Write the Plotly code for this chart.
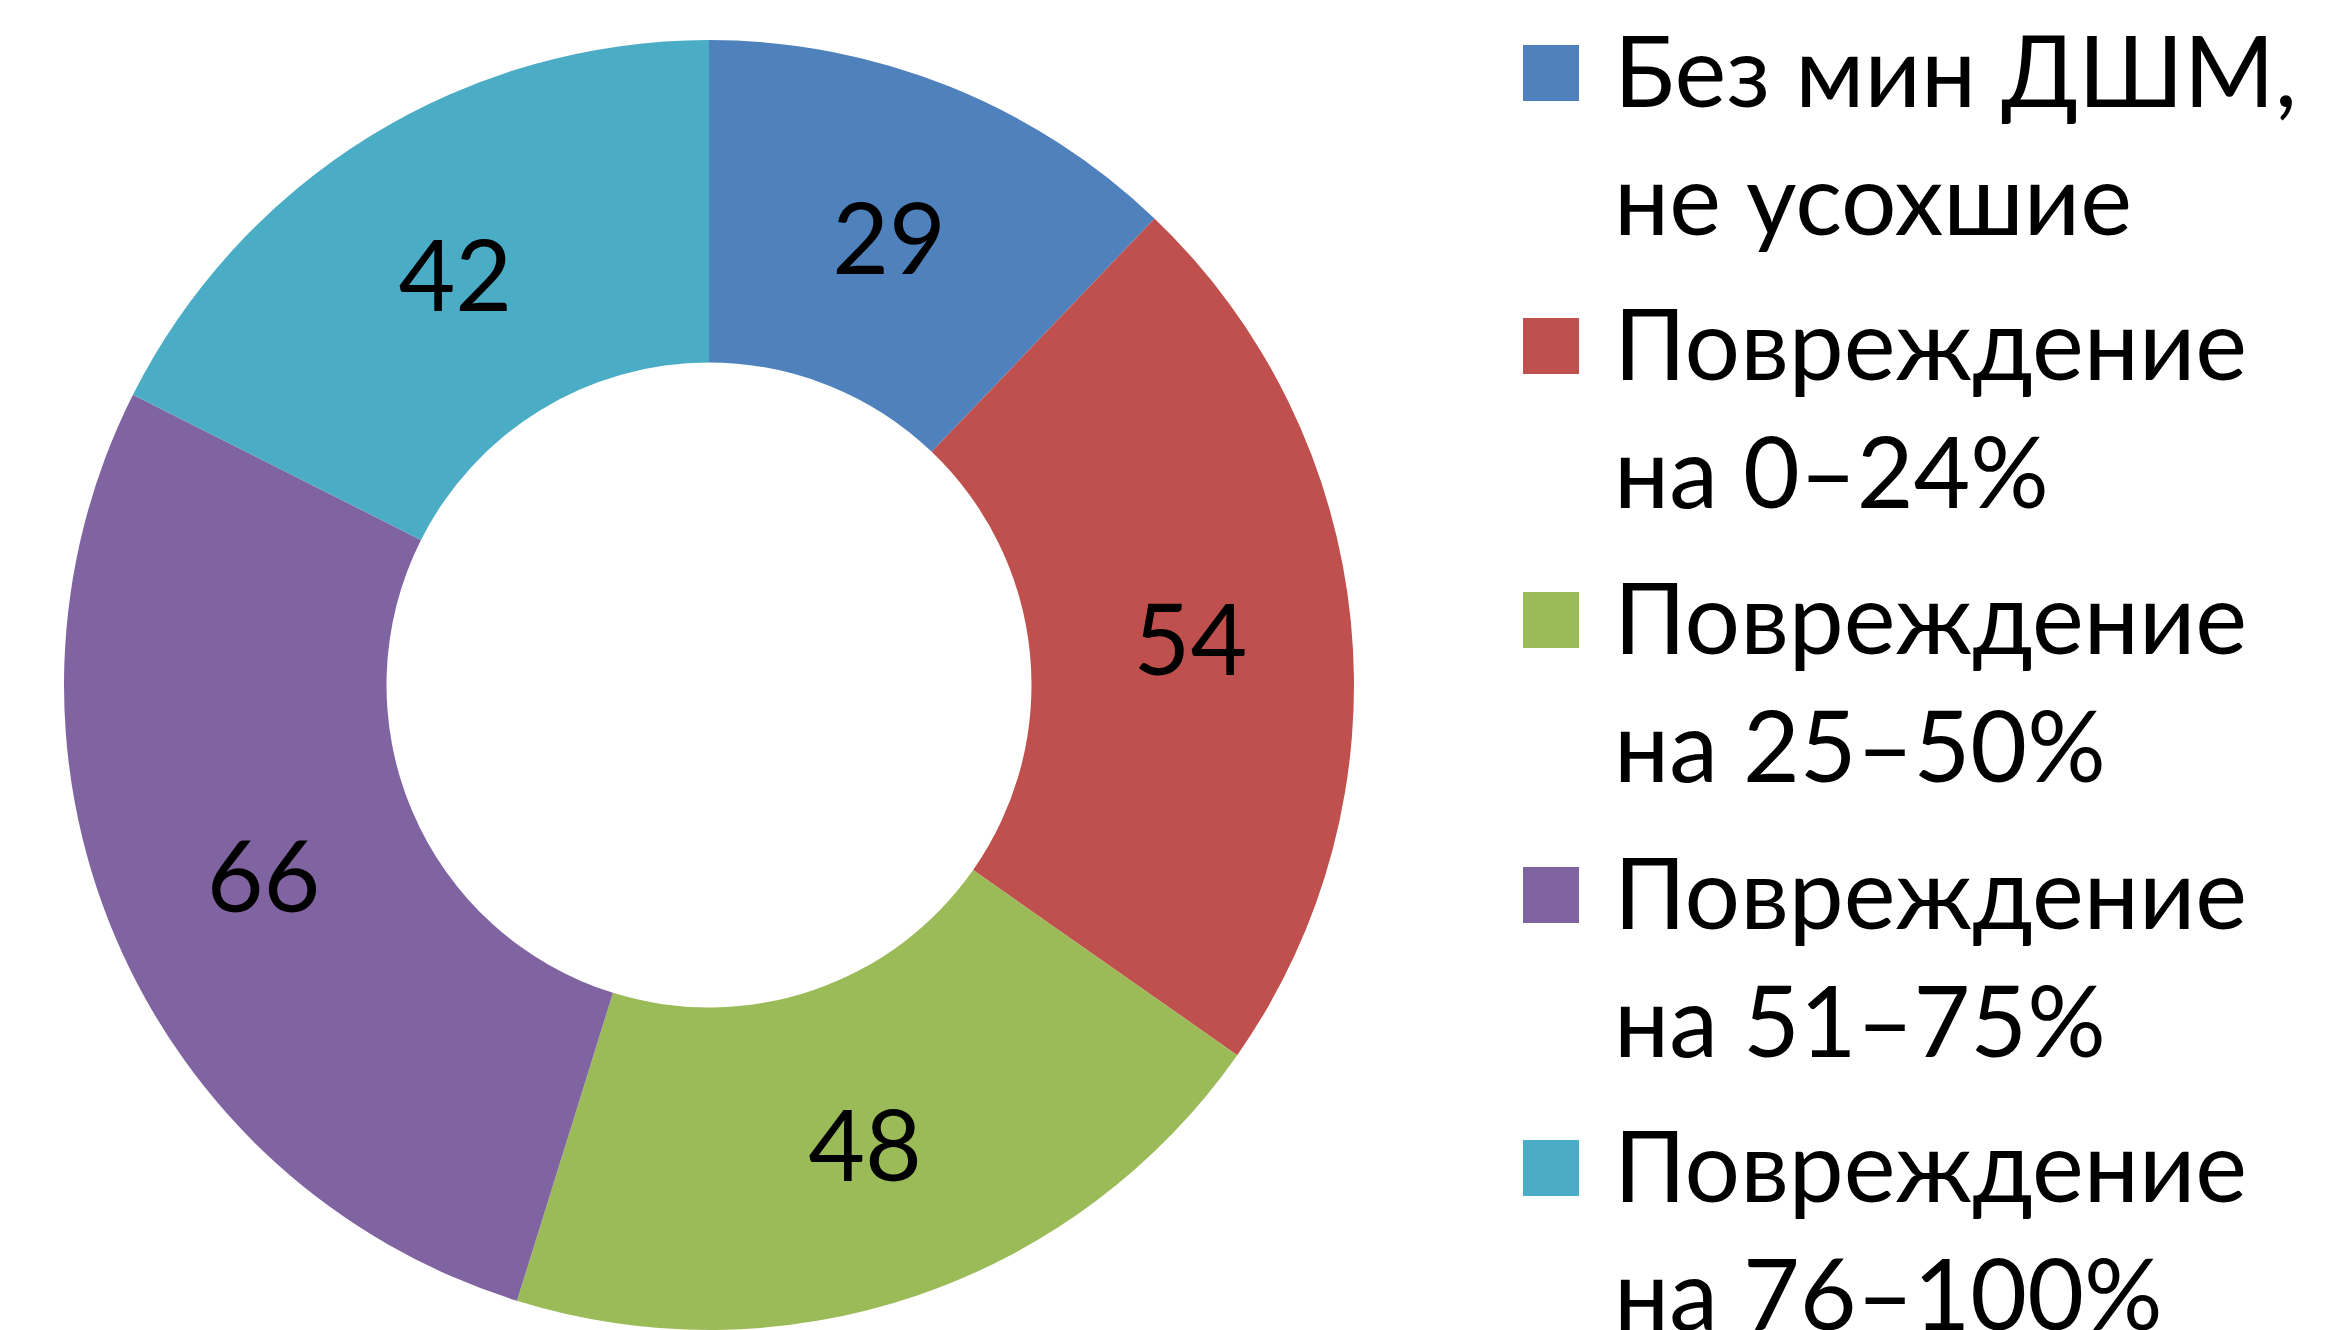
import plotly.graph_objects as go

W, H = 2335, 1330
OFF = 8  # browser default body margin compensation

categories = [
    "Без мин ДШМ,<br>не усохшие",
    "Повреждение<br>на 0–24%",
    "Повреждение<br>на 25–50%",
    "Повреждение<br>на 51–75%",
    "Повреждение<br>на 76–100%",
]
values = [29, 54, 48, 66, 42]
colors = ["#4F81BD", "#C0504D", "#9BBB59", "#8064A2", "#4BACC6"]

FONT = "Lato, Carlito, Calibri, sans-serif"
FS = 98

cx, cy0, R = 709 - OFF, 685 - OFF, 645

fig = go.Figure()
fig.add_trace(go.Pie(
    labels=categories,
    values=values,
    marker=dict(colors=colors, line=dict(width=0)),
    hole=0.5,
    sort=False,
    direction="clockwise",
    rotation=0,
    textinfo="value",
    textposition="inside",
    insidetextorientation="horizontal",
    textfont=dict(family=FONT, size=FS, color="black"),
    domain=dict(x=[(cx - R) / W, (cx + R) / W], y=[1 - (cy0 + R) / H, 1 - (cy0 - R) / H]),
    showlegend=False,
))

def px_x(x):
    return (x - OFF) / W

def px_y(y):
    return 1 - (y - OFF) / H

sq = 56
centers = [73, 346, 620, 895, 1168]
line_gap = 128
annotations = []
shapes = []
for i, (cat, col) in enumerate(zip(categories, colors)):
    c = centers[i]
    shapes.append(dict(type="rect", xref="paper", yref="paper",
                       x0=px_x(1523), x1=px_x(1523 + sq),
                       y0=px_y(c + sq / 2), y1=px_y(c - sq / 2),
                       fillcolor=col, line=dict(width=0)))
    for j, line in enumerate(cat.split("<br>")):
        annotations.append(dict(xref="paper", yref="paper",
                                x=px_x(1612), y=px_y(c + j * line_gap - 4),
                                xanchor="left", yanchor="middle",
                                text=line, showarrow=False,
                                font=dict(family=FONT, size=FS, color="black")))

fig.update_layout(
    width=W, height=H,
    margin=dict(l=0, r=0, t=0, b=0),
    paper_bgcolor="white",
    plot_bgcolor="white",
    shapes=shapes,
    annotations=annotations,
)

fig.write_html("out.html")
